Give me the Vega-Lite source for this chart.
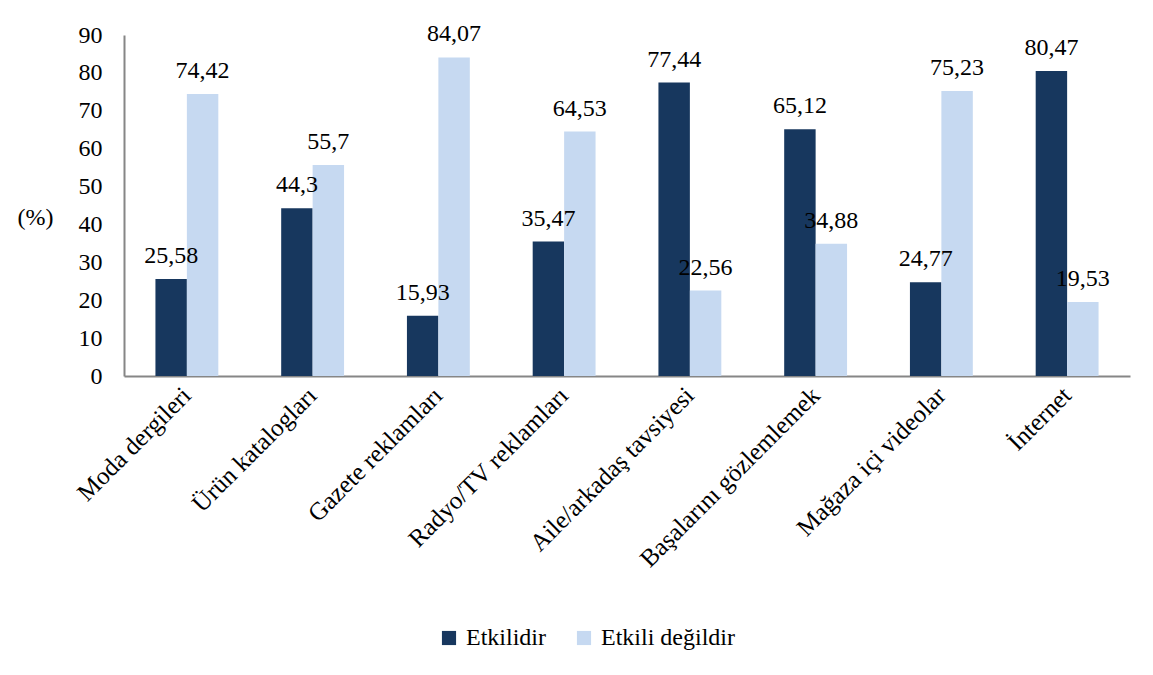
{
  "$schema": "https://vega.github.io/schema/vega-lite/v6.json",
  "autosize": "none",
  "width": 1006,
  "height": 341,
  "padding": {"left": 124, "top": 35, "right": 23, "bottom": 299},
  "background": "white",
  "config": {
    "font": "Liberation Serif",
    "view": {"stroke": null},
    "axis": {"labelFont": "Liberation Serif", "titleFont": "Liberation Serif", "labelColor": "black", "titleColor": "black"}
  },
  "data": {
    "values": [
      {"kategori": "Moda dergileri", "seri": "Etkilidir", "deger": 25.58, "etiket": "25,58"},
      {"kategori": "Moda dergileri", "seri": "Etkili değildir", "deger": 74.42, "etiket": "74,42"},
      {"kategori": "Ürün katalogları", "seri": "Etkilidir", "deger": 44.3, "etiket": "44,3"},
      {"kategori": "Ürün katalogları", "seri": "Etkili değildir", "deger": 55.7, "etiket": "55,7"},
      {"kategori": "Gazete reklamları", "seri": "Etkilidir", "deger": 15.93, "etiket": "15,93"},
      {"kategori": "Gazete reklamları", "seri": "Etkili değildir", "deger": 84.07, "etiket": "84,07"},
      {"kategori": "Radyo/TV reklamları", "seri": "Etkilidir", "deger": 35.47, "etiket": "35,47"},
      {"kategori": "Radyo/TV reklamları", "seri": "Etkili değildir", "deger": 64.53, "etiket": "64,53"},
      {"kategori": "Aile/arkadaş tavsiyesi", "seri": "Etkilidir", "deger": 77.44, "etiket": "77,44"},
      {"kategori": "Aile/arkadaş tavsiyesi", "seri": "Etkili değildir", "deger": 22.56, "etiket": "22,56"},
      {"kategori": "Başalarını gözlemlemek", "seri": "Etkilidir", "deger": 65.12, "etiket": "65,12"},
      {"kategori": "Başalarını gözlemlemek", "seri": "Etkili değildir", "deger": 34.88, "etiket": "34,88"},
      {"kategori": "Mağaza içi videolar", "seri": "Etkilidir", "deger": 24.77, "etiket": "24,77"},
      {"kategori": "Mağaza içi videolar", "seri": "Etkili değildir", "deger": 75.23, "etiket": "75,23"},
      {"kategori": "İnternet", "seri": "Etkilidir", "deger": 80.47, "etiket": "80,47"},
      {"kategori": "İnternet", "seri": "Etkili değildir", "deger": 19.53, "etiket": "19,53"}
    ]
  },
  "encoding": {
    "x": {
      "field": "kategori", "type": "nominal", "sort": null,
      "scale": {"paddingInner": 0.5, "paddingOuter": 0.25},
      "axis": {"title": null, "labelAngle": -45, "labelAlign": "right", "labelBaseline": "middle", "labelFontSize": 25, "labelPadding": 15, "ticks": false, "domainColor": "#868686", "domainWidth": 2, "labelLimit": 400}
    },
    "xOffset": {"field": "seri", "type": "nominal", "sort": ["Etkilidir", "Etkili değildir"], "scale": {"paddingInner": 0, "paddingOuter": 0}},
    "y": {
      "field": "deger", "type": "quantitative",
      "scale": {"domain": [0, 90], "nice": false},
      "axis": {"title": "(%)", "titleAngle": 0, "titleX": -107, "titleY": 182, "titleAlign": "left", "titleBaseline": "middle", "titleFontSize": 24, "titleFontWeight": "normal", "values": [0,10,20,30,40,50,60,70,80,90], "labelFontSize": 24, "labelPadding": 22, "ticks": false, "grid": false, "domainColor": "#868686", "domainWidth": 2}
    }
  },
  "layer": [
    {
      "mark": {"type": "bar"},
      "encoding": {
        "color": {
          "field": "seri", "type": "nominal",
          "scale": {"domain": ["Etkilidir", "Etkili değildir"], "range": ["#17375E", "#C6D9F1"]},
          "legend": {"title": null, "orient": "none", "direction": "horizontal", "legendX": 313, "legendY": 591, "symbolType": "square", "symbolSize": 200, "symbolStrokeWidth": 0, "labelFontSize": 24, "labelFont": "Liberation Serif", "labelColor": "black", "columnPadding": 26, "labelOffset": 5}
        }
      }
    },
    {
      "mark": {"type": "text", "fontSize": 24, "font": "Liberation Serif", "baseline": "alphabetic", "dy": -16, "color": "black"},
      "encoding": {"text": {"field": "etiket"}}
    }
  ]
}
